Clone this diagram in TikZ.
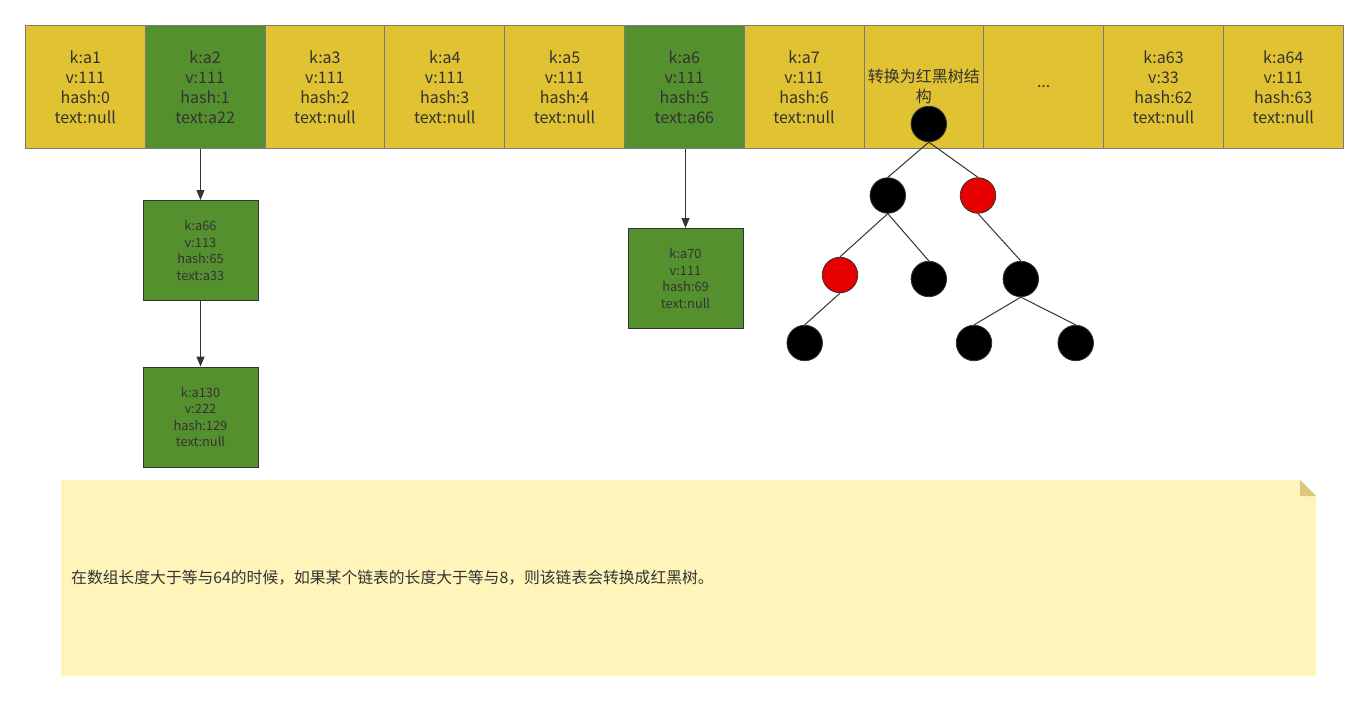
\documentclass[tikz,border=0pt]{standalone}
\usepackage{fontspec}
\setmainfont{Noto Sans CJK SC}
\usetikzlibrary{arrows.meta}
\definecolor{cellyellow}{HTML}{E0C232}
\definecolor{cellgreen}{HTML}{55902F}
\definecolor{cellborder}{HTML}{7A7A7A}
\definecolor{txt}{HTML}{333333}
\definecolor{darkline}{HTML}{333333}
\definecolor{notefill}{HTML}{FFF5BA}
\definecolor{notefold}{HTML}{DEC67E}
\definecolor{rbred}{HTML}{E60000}
\tikzset{
  cell/.style={draw=cellborder, line width=0.8pt, minimum width=119.8pt, minimum height=123pt,
    inner sep=0pt, anchor=north west, align=center, text=txt,
    font=\fontsize{16}{20}\selectfont},
  ycell/.style={cell, fill=cellyellow},
  gcell/.style={cell, fill=cellgreen},
  chainbox/.style={draw=darkline, line width=1pt, fill=cellgreen, minimum width=115pt,
    minimum height=100pt, inner sep=0pt, anchor=north west, align=center, text=txt,
    font=\fontsize{12.8}{16.5}\selectfont},
  arr/.style={draw=darkline, line width=1pt, -{Triangle[width=8pt,length=10pt]}},
  rb/.style={circle, draw=darkline, line width=0.8pt, minimum size=35.5pt, inner sep=0pt},
  blk/.style={rb, fill=black},
  rd/.style={rb, fill=rbred},
  edge/.style={draw=darkline, line width=1pt},
}
\begin{document}
\begin{tikzpicture}[x=1pt,y=-1pt]
\useasboundingbox (0,0) rectangle (1369,701);
\fill[white] (0,0) rectangle (1369,701);
% top array
\node[ycell] (c1) at (25,25) {k:a1\\v:111\\hash:0\\text:null};
\node[gcell] (c2) at (144.8,25) {k:a2\\v:111\\hash:1\\text:a22};
\node[ycell] (c3) at (264.6,25) {k:a3\\v:111\\hash:2\\text:null};
\node[ycell] (c4) at (384.4,25) {k:a4\\v:111\\hash:3\\text:null};
\node[ycell] (c5) at (504.2,25) {k:a5\\v:111\\hash:4\\text:null};
\node[gcell] (c6) at (624,25) {k:a6\\v:111\\hash:5\\text:a66};
\node[ycell] (c7) at (743.8,25) {k:a7\\v:111\\hash:6\\text:null};
\node[ycell] (c8) at (863.6,25) {转换为红黑树结\\构};
\node[ycell] (c9) at (983.4,25) {...};
\node[ycell] (c10) at (1103.2,25) {k:a63\\v:33\\hash:62\\text:null};
\node[ycell] (c11) at (1223,25) {k:a64\\v:111\\hash:63\\text:null};
% chains
\node[chainbox] (n1) at (142.5,200) {k:a66\\v:113\\hash:65\\text:a33};
\node[chainbox] (n2) at (142.5,366.5) {k:a130\\v:222\\hash:129\\text:null};
\node[chainbox] (n3) at (627.5,228) {k:a70\\v:111\\hash:69\\text:null};
\draw[arr] (c2.south -| n1.north) -- (n1.north);
\draw[arr] (n1.south) -- (n2.north);
\draw[arr] (c6.south -| n3.north) -- (n3.north);
% red-black tree
\node[blk] (t0) at (928.8,124) {};
\node[blk] (t1) at (887.8,195.5) {};
\node[rd]  (t2) at (978,195.5) {};
\node[rd]  (t3) at (840,275) {};
\node[blk] (t4) at (928.8,279) {};
\node[blk] (t5) at (1020.8,279) {};
\node[blk] (t6) at (804.7,343) {};
\node[blk] (t7) at (974,343) {};
\node[blk] (t8) at (1075.7,343) {};
\draw[edge] (t0.south) -- (t1.north);
\draw[edge] (t0.south) -- (t2.north);
\draw[edge] (t1.south) -- (t3.north);
\draw[edge] (t1.south) -- (t4.north);
\draw[edge] (t2.south) -- (t5.north);
\draw[edge] (t3.south) -- (t6.north);
\draw[edge] (t5.south) -- (t7.north);
\draw[edge] (t5.south) -- (t8.north);
% note
\fill[notefill] (61,480) -- (1300,480) -- (1316,496) -- (1316,676) -- (61,676) -- cycle;
\fill[notefold] (1300,480) -- (1316,496) -- (1300,496) -- cycle;
\node[anchor=west, inner sep=0pt, text=txt, font=\fontsize{15.8}{20}\selectfont] (note) at (71,578)
  {在数组长度大于等与64的时候，如果某个链表的长度大于等与8，则该链表会转换成红黑树。};
\end{tikzpicture}
\end{document}
